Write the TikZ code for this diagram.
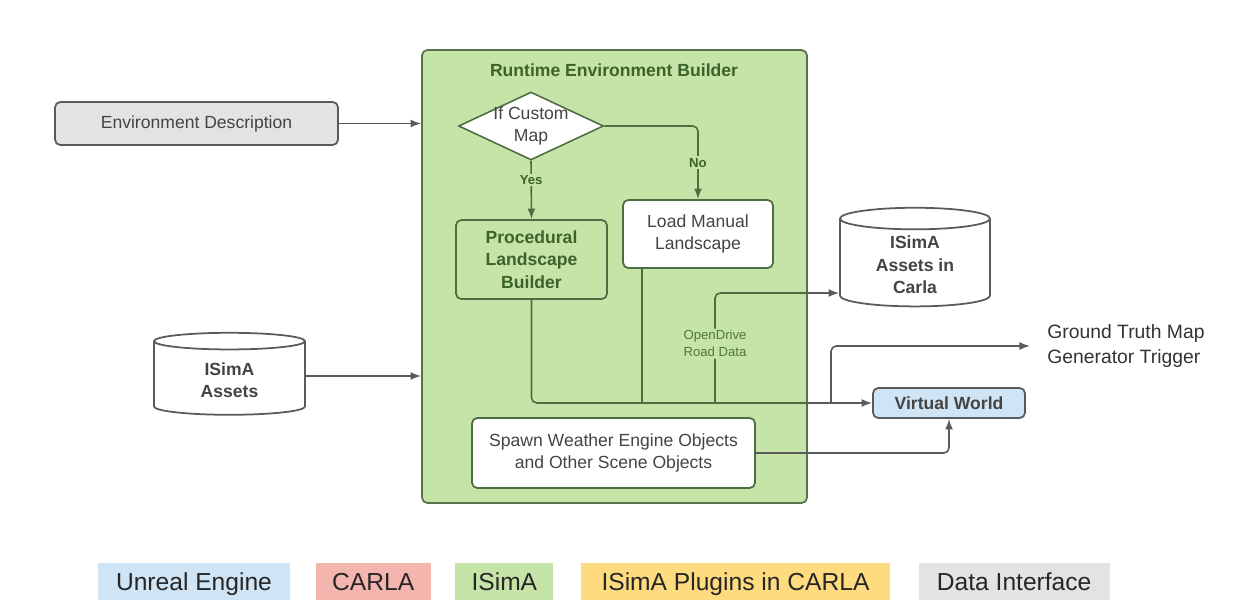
\documentclass[tikz,border=0pt]{standalone}
\usepackage{fontspec}
\setmainfont{Liberation Sans}
\usetikzlibrary{arrows.meta}
\usetikzlibrary{positioning}
\usetikzlibrary{shapes.geometric}

\definecolor{boxgreen}{HTML}{C6E4A8}
\definecolor{darkgreen}{HTML}{3C6329}
\definecolor{labelgreen}{HTML}{4F7A38}
\definecolor{linegreen}{HTML}{4E6E42}
\definecolor{linegray}{HTML}{5A5A5A}
\definecolor{txtgray}{HTML}{444444}
\definecolor{ueblue}{HTML}{CFE4F4}
\definecolor{carlared}{HTML}{F4B5AE}
\definecolor{pluginyellow}{HTML}{FDDB7E}
\definecolor{difgray}{HTML}{E3E3E3}

\tikzset{
  every node/.style={font=\fontsize{10}{12.8}\selectfont,text=txtgray,align=center},
  blk/.style={draw=linegray,rounded corners=3pt,line width=1pt,inner sep=0pt},
  db/.style={draw=linegray,cylinder,shape border rotate=90,aspect=0.24,line width=1pt,fill=white,font=\fontsize{10}{12.8}\selectfont\bfseries},
  conn/.style={draw=linegray,line width=0.9pt},
  inconn/.style={draw=linegreen,line width=0.9pt},
  arr/.style={-{Latex[length=6pt,width=4.5pt]}},
  tag/.style={font=\fontsize{7.5}{9.6}\selectfont,fill=boxgreen,inner sep=1pt},
  keybox/.style={minimum height=0.74cm,inner sep=0pt,text height=10pt,text depth=0pt,font=\fontsize{14}{16}\selectfont,text=black!85}
}

\begin{document}
\begin{tikzpicture}[x=0.02cm,y=-0.02cm]
\useasboundingbox (0,0) rectangle (1256,601);
% runtime environment builder
\node[blk,fill=boxgreen,draw=linegreen!80!gray,minimum width=7.7cm,minimum height=9.06cm] (reb) at (614.5,276.5) {};
\node[font=\fontsize{10}{12.8}\selectfont\bfseries,text=darkgreen] (rebtitle) at (614,70) {Runtime Environment Builder};
\node[draw=linegreen,fill=white,diamond,aspect=2.13,inner sep=-2pt,minimum width=2.9cm,minimum height=1.36cm,line width=0.9pt] (ifmap) at (531,126) {If Custom\\Map};
\node[blk,draw=linegreen,fill=boxgreen,minimum width=3.02cm,minimum height=1.58cm,font=\fontsize{10}{12.8}\selectfont\bfseries,text=darkgreen] (proc) at (531.5,259.5) {Procedural\\Landscape\\Builder};
\node[blk,draw=linegreen,fill=white,minimum width=3cm,minimum height=1.36cm] (manual) at (698,234) {Load Manual\\Landscape};
\node[blk,draw=linegreen,fill=white,minimum width=5.66cm,minimum height=1.4cm] (spawn) at (613.5,453) {Spawn Weather Engine Objects\\and Other Scene Objects};
% outside blocks
\node[blk,fill=difgray,minimum width=5.66cm,minimum height=0.86cm] (envdesc) at (196.5,123.5) {Environment Description};
\node[db,minimum width=3.02cm,minimum height=1.64cm] (assets) at (229.5,380) {ISimA\\Assets};
\node[db,minimum width=3cm,minimum height=1.88cm] (carla) at (915,265) {ISimA\\Assets in\\Carla};
\node[blk,fill=ueblue,minimum width=3.04cm,minimum height=0.6cm,font=\fontsize{10}{12.8}\selectfont\bfseries] (vw) at (949,403) {Virtual World};
\node[anchor=west,inner sep=0pt,align=left,font=\fontsize{11}{14}\selectfont,text=black!80] (gt) at (1047,346) {Ground Truth Map\\Generator Trigger};
% junctions
\coordinate (odj) at (715,403);
\coordinate (gtj) at (831,403);
\coordinate (assetsout) at ([yshift=0.08cm]assets.east);
\coordinate (carlain) at ([yshift=-0.56cm]carla.west);
\coordinate (manout) at ([xshift=0.4cm]manual.south west);
% connectors
\draw[conn,arr] (envdesc.east) -- (envdesc.east -| reb.west);
\draw[conn,arr] (assetsout) -- (assetsout -| reb.west);
\draw[inconn,arr] (ifmap.south) -- node[tag,pos=0.33,font=\fontsize{7.5}{9}\selectfont\bfseries,text=darkgreen]{Yes} (proc.north);
\draw[inconn,arr,rounded corners=3pt] (ifmap.east) -| node[tag,pos=0.75,font=\fontsize{7.5}{9}\selectfont\bfseries,text=darkgreen]{No} (manual.north);
\draw[inconn,rounded corners=3pt] (proc.south) |- (vw.west -| reb.east);
\draw[conn,arr] (vw.west -| reb.east) -- (vw.west);
\draw[inconn] (manout) -- (manout |- vw.west);
\draw[inconn,rounded corners=3pt] (odj) |- node[tag,pos=0.27,text=labelgreen]{OpenDrive\\Road Data} (carlain -| reb.east);
\draw[conn,arr] (carlain -| reb.east) -- (carlain);
\draw[conn,arr,rounded corners=3pt] (gtj) |- ([xshift=-0.34cm]gt.west);
\draw[conn,arr,rounded corners=3pt] (spawn.east) -| (vw.south);
% legend
\node[keybox,fill=ueblue,minimum width=3.84cm] (kue) at (194,581.5) {Unreal Engine};
\node[keybox,fill=carlared,minimum width=2.3cm,right=0.5cm of kue] (kcarla) {CARLA};
\node[keybox,fill=boxgreen,minimum width=1.96cm,right=0.48cm of kcarla] (kisima) {ISimA};
\node[keybox,fill=pluginyellow,minimum width=6.18cm,right=0.54cm of kisima] (kplug) {ISimA Plugins in CARLA};
\node[keybox,fill=difgray,minimum width=3.82cm,right=0.56cm of kplug] (kdata) {Data Interface};
\end{tikzpicture}
\end{document}
